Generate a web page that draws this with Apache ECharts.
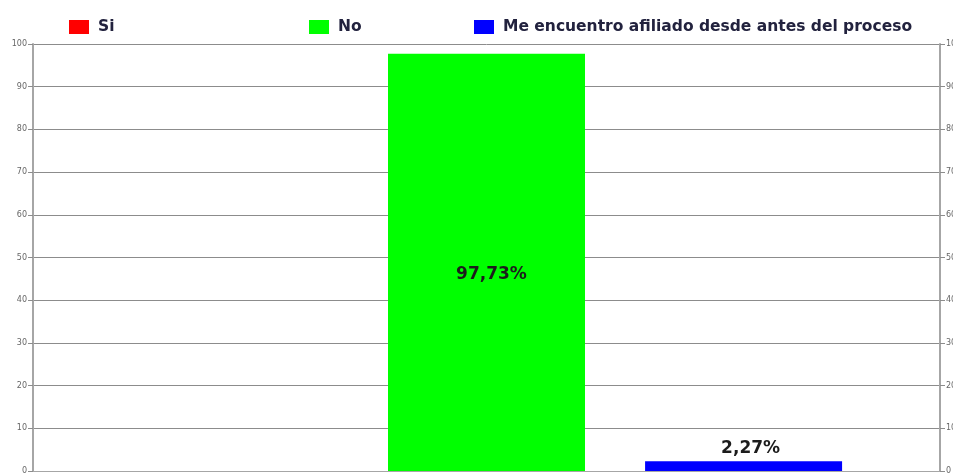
<!DOCTYPE html>
<html>
<head>
<meta charset="utf-8">
<script src="https://cdn.jsdelivr.net/npm/echarts@6/dist/echarts.min.js"></script>
<style>
  html, body { margin: 0; padding: 0; background: #fff; }
  #chart { width: 953px; height: 474px; }
</style>
</head>
<body>
<div id="chart"></div>
<script>
// Respuestas a la pregunta de afiliación (porcentaje)
const categories = [''];
const seriesNames = ['Si', 'No', 'Me encuentro afiliado desde antes del proceso'];
const seriesColors = ['#ff0000', '#00ff00', '#0000ff'];
const valuesSi = [0];
const valuesNo = [97.73];
const valuesAfiliado = [2.27];
const yTicks = { min: 0, max: 100, interval: 10 };

const seriesValues = [valuesSi, valuesNo, valuesAfiliado];
const labelStyles = [
  { show: false },
  { show: true, position: 'inside', offset: [5, 12] },
  { show: true, position: 'top', distance: 4, offset: [7, 0] }
];

const fmt = v => v.toFixed(2).replace('.', ',') + '%';

const chart = echarts.init(document.getElementById('chart'));

const legendLefts = [64, 304, 469];
const legendTextStyle = { fontFamily: 'DejaVu Sans', fontSize: 15.5, fontWeight: 'bold', color: '#22223e' };

const axisCommon = {
  type: 'value',
  min: yTicks.min,
  max: yTicks.max,
  interval: yTicks.interval,
  axisLine: { show: true, lineStyle: { color: '#a6a6a6', width: 2 } },
  axisTick: { show: true, length: 5, lineStyle: { color: '#8c8c8c' } },
  axisLabel: { fontSize: 8, color: '#666', fontFamily: 'DejaVu Sans', margin: 6 },
};

chart.setOption({
  animation: false,
  backgroundColor: '#fff',
  legend: seriesNames.map((name, i) => ({
    data: [name],
    left: legendLefts[i],
    top: 14,
    itemWidth: 20,
    itemHeight: 14,
    itemGap: 0,
    icon: 'rect',
    textStyle: Object.assign({ padding: [0, 0, 0, 4] }, legendTextStyle),
  })),
  grid: { left: 33, right: 13, top: 44, bottom: 3, containLabel: false, outerBoundsMode: 'none' },
  xAxis: {
    type: 'category',
    data: categories,
    axisLine: { show: true, lineStyle: { color: '#a6a6a6', width: 1 } },
    axisTick: { show: false },
    axisLabel: { show: false },
  },
  yAxis: [
    Object.assign({}, axisCommon, {
      position: 'left',
      splitLine: { show: true, lineStyle: { color: '#8c8c8c', width: 1 } },
    }),
    Object.assign({}, axisCommon, {
      position: 'right',
      splitLine: { show: false },
    }),
  ],
  series: seriesNames.map((name, i) => ({
    name: name,
    type: 'bar',
    data: seriesValues[i],
    barWidth: 197,
    barGap: '30.5%',
    itemStyle: { color: seriesColors[i] },
    label: Object.assign({
      formatter: p => fmt(p.value),
      fontFamily: 'DejaVu Sans',
      fontWeight: 'bold',
      fontSize: 17,
      color: '#1c1c1c',
    }, labelStyles[i]),
  })),
});
</script>
</body>
</html>
